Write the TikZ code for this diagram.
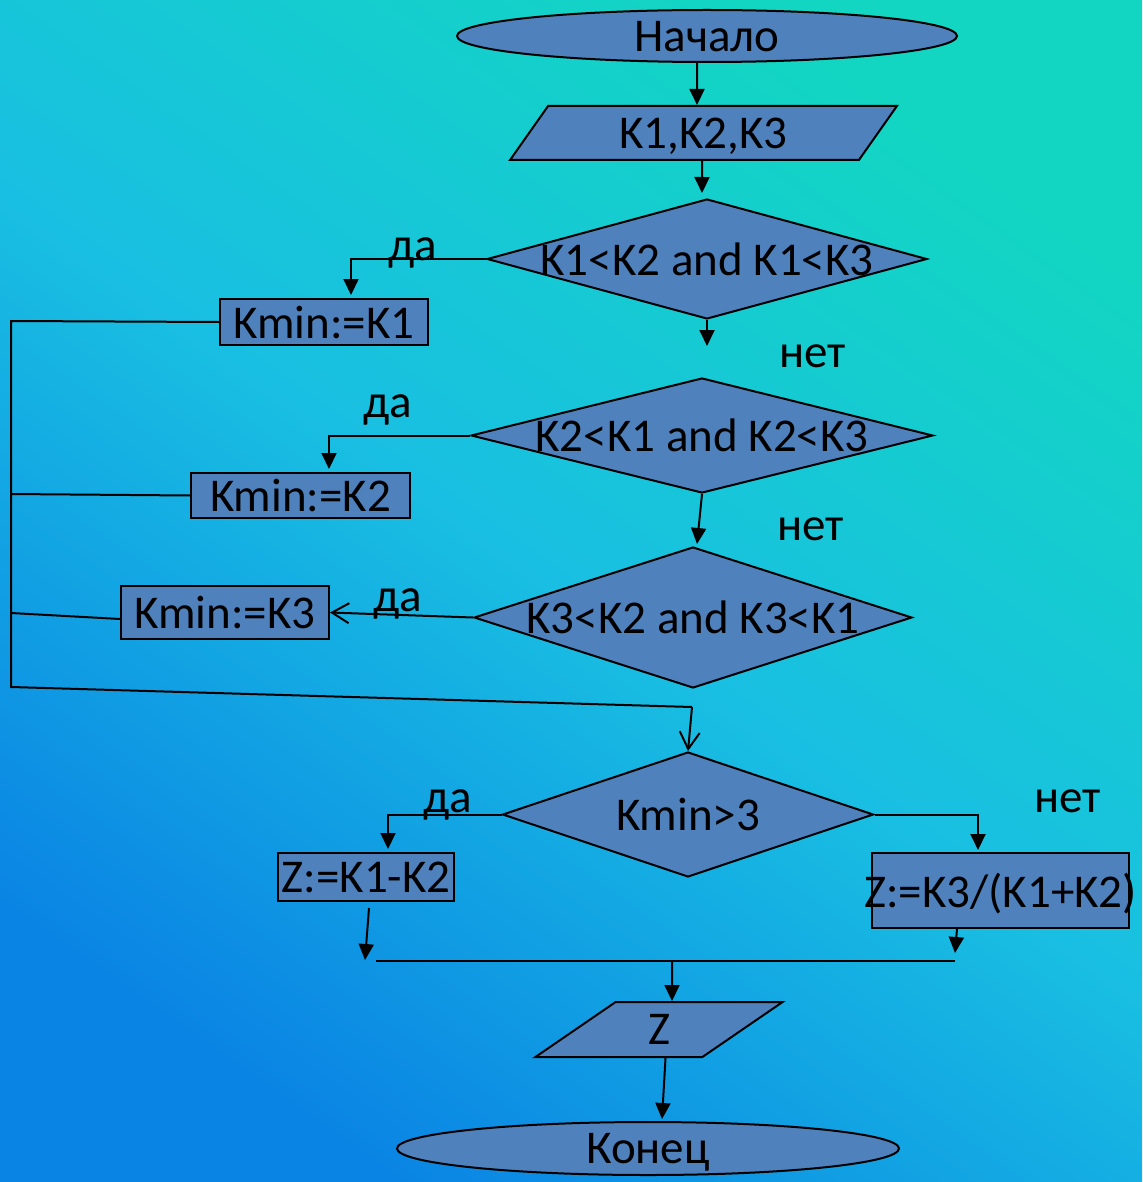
\documentclass[tikz,border=0pt]{standalone}
\usepackage{fontspec}
\setmainfont{Carlito}
\usetikzlibrary{arrows.meta,shapes.geometric}
\definecolor{shapefill}{HTML}{4F81BD}
\definecolor{bgteal}{HTML}{12D6C2}
\definecolor{bgcyan}{HTML}{19BFE2}
\definecolor{bgblue}{HTML}{0A84E4}

\begin{document}
\begin{tikzpicture}[x=1pt,y=-1pt,line width=2pt,
    every node/.style={font=\fontsize{47}{56}\selectfont,text depth=0pt},
    term/.style={ellipse,draw,fill=shapefill,inner sep=0pt,minimum width=500pt,minimum height=52pt},
    io/.style={trapezium,trapezium left angle=56,trapezium right angle=124,trapezium stretches=true,draw,fill=shapefill,inner sep=0pt},
    cond/.style={diamond,draw,fill=shapefill,inner sep=0pt},
    box/.style={rectangle,draw,fill=shapefill,inner sep=0pt},
    lbl/.style={inner sep=0pt,anchor=base west},
    arr/.style={-{Triangle[length=16pt,width=15pt]}},
    openarr/.style={-{Straight Barb[length=17pt,width=20pt]}}]
    \fill[top color=bgteal,bottom color=bgblue,middle color=bgcyan,shading angle=-35] (0,0) rectangle (1142,1182);

    \node[term] (start) at (707,36) {Начало};
    \node[io,minimum width=387pt,minimum height=54pt,node distance=97pt,below of=start,xshift=-3.5pt] (in) {K1,K2,K3};
    \node[cond,minimum width=440pt,minimum height=120pt,node distance=126pt,below of=in,xshift=3.5pt] (c1) {\makebox[0pt]{K1<K2 and K1<K3}};
    \node[cond,minimum width=462pt,minimum height=115pt,node distance=176.5pt,below of=c1,xshift=-5pt] (c2) {\makebox[0pt]{K2<K1 and K2<K3}};
    \node[cond,minimum width=438pt,minimum height=141pt,node distance=182pt,below of=c2,xshift=-9pt] (c3) {\makebox[0pt]{K3<K2 and K3<K1}};
    \node[cond,minimum width=371pt,minimum height=125pt,node distance=197pt,below of=c3,xshift=-5pt] (c4) {\makebox[0pt]{Kmin>3}};
    \node[io,minimum width=248pt,minimum height=55pt,node distance=215pt,below of=c4,xshift=-29pt] (out) {Z};
    \node[term,minimum width=502pt,minimum height=53pt,node distance=119pt,below of=out,xshift=-11pt] (end) {Конец};

    \node[box,minimum width=208pt,minimum height=46pt] (m1) at (324,322) {Kmin:=K1};
    \node[box,minimum width=219pt,minimum height=45pt] (m2) at (300.5,495.5) {Kmin:=K2};
    \node[box,minimum width=208pt,minimum height=53pt] (m3) at (225,612.5) {Kmin:=K3};
    \node[box,minimum width=176pt,minimum height=48pt] (z1) at (366,877) {\makebox[0pt]{Z:=K1-K2}};
    \node[box,minimum width=257pt,minimum height=75pt] (z2) at (1000.5,890.5) {\makebox[0pt]{Z:=K3/(K1+K2)}};

    \node[lbl] (y1) at (387,261) {да};
    \node[lbl] (y2) at (362,417) {да};
    \node[lbl] (y3) at (372,611) {да};
    \node[lbl] (y4) at (422,812) {да};
    \node[lbl] (n1) at (778,367) {нет};
    \node[lbl] (n2) at (776,540) {нет};
    \node[lbl] (n4) at (1033,812) {нет};

    \coordinate (c1out) at (707,346);
    \coordinate (l1) at (11,321);
    \coordinate (l2) at (11,494);
    \coordinate (l3) at (11,613);
    \coordinate (l4) at (11,687);
    \coordinate (j) at (692,707);
    \coordinate (b1) at (365,960);
    \coordinate (b2) at (955,953);
    \coordinate (h1) at (376,961);
    \coordinate (h2) at (955,961);
    \coordinate (h3) at (672,961);

    \draw[arr] ([xshift=-10pt]start.south) -- ([xshift=-6.5pt]in.north);
    \draw[arr] ([xshift=-1.5pt]in.south) -- ([xshift=-5pt,yshift=5pt]c1.north);
    \draw[arr] (c1.south) -- (c1out);
    \draw[arr] (c2.south) -- ([xshift=4pt,yshift=2pt]c3.north);
    \draw[arr] (c1.west) -| ([xshift=27pt,yshift=3pt]m1.north);
    \draw[arr] (c2.west) -| ([xshift=28.5pt,yshift=3pt]m2.north);
    \draw[openarr] (c3.west) -- (m3.east);
    \draw (m1.west) -- (l1) -- (l4) -- (j);
    \draw (m2.west) -- (l2);
    \draw ([yshift=-6.5pt]m3.west) -- (l3);
    \draw[openarr] (j) -- (c4.north);
    \draw[arr] (c4.west) -| ([xshift=22pt,yshift=3pt]z1.north);
    \draw[arr] (c4.east) -| ([xshift=-22.5pt,yshift=2pt]z2.north);
    \draw[arr] ([xshift=3pt,yshift=-6pt]z1.south) -- (b1);
    \draw[arr] ([xshift=-43.5pt]z2.south) -- (b2);
    \draw (h1) -- (h2);
    \draw[arr] (h3) -- ([xshift=13pt]out.north);
    \draw[arr] ([xshift=6.5pt]out.south) -- ([xshift=14pt,yshift=2pt]end.north);
\end{tikzpicture}
\end{document}
